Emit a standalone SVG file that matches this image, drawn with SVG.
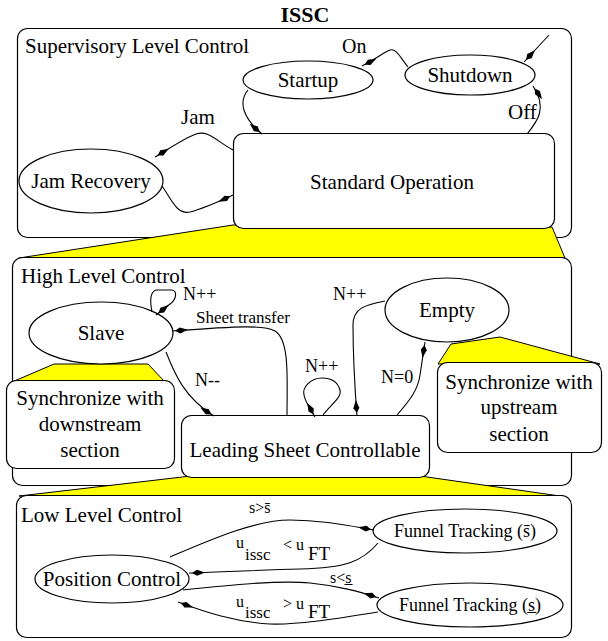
<svg xmlns="http://www.w3.org/2000/svg" width="608" height="641" viewBox="0 0 608 641" font-family="'Liberation Serif', 'DejaVu Serif', serif">
<style>
text{font-family:'Liberation Serif','DejaVu Serif',serif;fill:#000}
.t{font-size:21px}
.m{font-size:18px}
.s{font-size:16px}
.c{text-anchor:middle}
.box{fill:#fff;stroke:#000;stroke-width:1.2}
.node{fill:#fff;stroke:#000;stroke-width:1.2}
.y{fill:#ffff00;stroke:#000;stroke-width:1}
.e{fill:none;stroke:#000;stroke-width:1.1}
</style>
<defs>
<marker id="arr" markerUnits="userSpaceOnUse" markerWidth="14" markerHeight="8" viewBox="0 -4 14 8" refX="16" refY="0" orient="auto" overflow="visible">
<path d="M0,0 L8,-3 L13,0 L8,3 Z" fill="#000"/>
</marker>
</defs>
<rect width="608" height="641" fill="#fff"/>
<text x="305" y="22" class="c" style="font-size:22px;font-weight:bold">ISSC</text>

<!-- containers -->
<g id="supervisory">
<rect class="box" x="17.5" y="28.5" width="554" height="209" rx="10"/>
<text class="t" x="25" y="53">Supervisory Level Control</text>
</g>
<polygon class="y" points="233,225 552,227 565,258 19,258"/>
<g id="highlevel">
<rect class="box" x="12.5" y="257.5" width="559" height="228" rx="10"/>
<text class="t" x="21" y="283">High Level Control</text>
</g>
<polygon class="y" points="191,476 420,476 560,496 19,496"/>
<g id="lowlevel">
<rect class="box" x="16.5" y="495.5" width="555" height="142" rx="10"/>
<text class="t" x="21" y="522">Low Level Control</text>
</g>

<!-- yellow zooms inside high level -->
<polygon class="y" points="54,364 148,364 165,382 12,382"/>
<polygon class="y" points="451,344 500,337 600,364 438,364"/>

<!-- nodes -->
<g id="startup"><ellipse class="node" cx="308" cy="80" rx="65" ry="19"/><text class="t c" x="308" y="87">Startup</text></g>
<g id="shutdown"><ellipse class="node" cx="470" cy="75" rx="65" ry="20"/><text class="t c" x="470" y="82">Shutdown</text></g>
<g id="standard"><rect class="node" x="233.5" y="133.5" width="321" height="95" rx="10"/><text class="t c" x="392" y="189">Standard Operation</text></g>
<g id="jamrecovery"><ellipse class="node" cx="91" cy="181" rx="72" ry="32"/><text class="t c" x="91" y="188">Jam Recovery</text></g>

<g id="slave"><ellipse class="node" cx="101" cy="333" rx="72" ry="31"/><text class="t c" x="101" y="340">Slave</text></g>
<g id="empty"><ellipse class="node" cx="447" cy="310" rx="62" ry="32"/><text class="t c" x="447" y="317">Empty</text></g>
<g id="syncdown"><rect class="node" x="6.5" y="380.5" width="168" height="88" rx="10"/>
<text class="t c" x="90" y="405">Synchronize with</text><text class="t c" x="90" y="431">downstream</text><text class="t c" x="90" y="457">section</text></g>
<g id="syncup"><rect class="node" x="437.5" y="362.5" width="164" height="90" rx="10"/>
<text class="t c" x="519" y="389">Synchronize with</text><text class="t c" x="519" y="414">upstream</text><text class="t c" x="519" y="441">section</text></g>
<g id="lsc"><rect class="node" x="181.5" y="415.5" width="248" height="62" rx="10"/><text class="t c" x="305" y="457">Leading Sheet Controllable</text></g>

<g id="position"><ellipse class="node" cx="112" cy="579" rx="77" ry="24"/><text class="t c" x="112" y="586">Position Control</text></g>
<g id="ftover"><ellipse class="node" cx="465" cy="531" rx="92" ry="22"/><text class="m c" x="465" y="537">Funnel Tracking (s̄)</text></g>
<g id="ftunder"><ellipse class="node" cx="470" cy="605" rx="93" ry="22"/><text class="m c" x="470" y="611">Funnel Tracking (s̲)</text></g>

<!-- connectors -->
<g id="connectors">
<path class="e" marker-end="url(#arr)" d="M549,35 L524,62"/>
<path class="e" marker-end="url(#arr)" d="M408,67 C400,57 396,48 390,50 C384,52 378,58 362,66"/>
<path class="e" marker-end="url(#arr)" d="M248,90 C238,102 243,118 262,134"/>
<path class="e" marker-end="url(#arr)" d="M527,134 C537,122 548,108 533,86"/>
<path class="e" marker-end="url(#arr)" d="M233,150 C215,140 208,130 196,134 C185,138 170,148 155,157"/>
<path class="e" marker-end="url(#arr)" d="M162,186 C172,200 177,215 190,212 C205,208 220,201 233,195"/>

<path class="e" marker-end="url(#arr)" d="M152,312 C150,302 150,292 156,290 L172,290 C178,291 176,300 170,304 L156,315"/>
<path class="e" marker-end="url(#arr)" d="M287,415 C287,380 290,340 275,331 C265,325 240,326 172,331"/>
<path class="e" marker-end="url(#arr)" d="M166,352 C175,375 185,398 214,416"/>
<path class="e" marker-end="url(#arr)" d="M323,415 C330,405 342,398 340,390 C338,383 333,378 322,378 C310,378 302,388 304,395 C305,402 310,408 315,417"/>
<path class="e" marker-end="url(#arr)" d="M385,301 C365,305 353,308 353,325 C353,360 355,390 357,416"/>
<path class="e" marker-end="url(#arr)" d="M397,415 C410,400 418,390 420,375 C422,362 423,355 425,342"/>

<path class="e" marker-end="url(#arr)" d="M170,557 C210,540 255,520 290,520 C320,520 345,525 374,530"/>
<path class="e" marker-end="url(#arr)" d="M378,543 C362,562 345,568 300,569 C260,570 220,572 189,573"/>
<path class="e" marker-end="url(#arr)" d="M183,590 C230,585 280,580 310,583 C340,586 360,592 379,598"/>
<path class="e" marker-end="url(#arr)" d="M378,612 C340,618 300,625 270,624 C235,622 205,612 178,602"/>
</g>

<!-- edge labels -->
<g id="labels">
<text x="342" y="53" style="font-size:20px">On</text>
<text class="t" x="508" y="119">Off</text>
<text class="t" x="181" y="124">Jam</text>
<text class="m" x="183" y="300">N++</text>
<text x="196" y="323" style="font-size:17px">Sheet transfer</text>
<text class="m" x="195" y="386">N--</text>
<text class="m" x="305" y="372">N++</text>
<text class="m" x="333" y="300">N++</text>
<text class="m" x="381" y="383">N=0</text>
<text class="s" x="249" y="513">s&gt;s̄</text>
<text class="s" x="330" y="583">s&lt;s̲</text>
<text x="236" y="548" style="font-size:16px">u<tspan x="245" y="560" style="font-size:17px">issc</tspan><tspan x="283" y="550">&lt; u</tspan><tspan x="308" y="560" style="font-size:19px">FT</tspan></text>
<text x="236" y="607" style="font-size:16px">u<tspan x="245" y="618" style="font-size:17px">issc</tspan><tspan x="283" y="609">&gt; u</tspan><tspan x="308" y="618" style="font-size:19px">FT</tspan></text>
</g>
</svg>
